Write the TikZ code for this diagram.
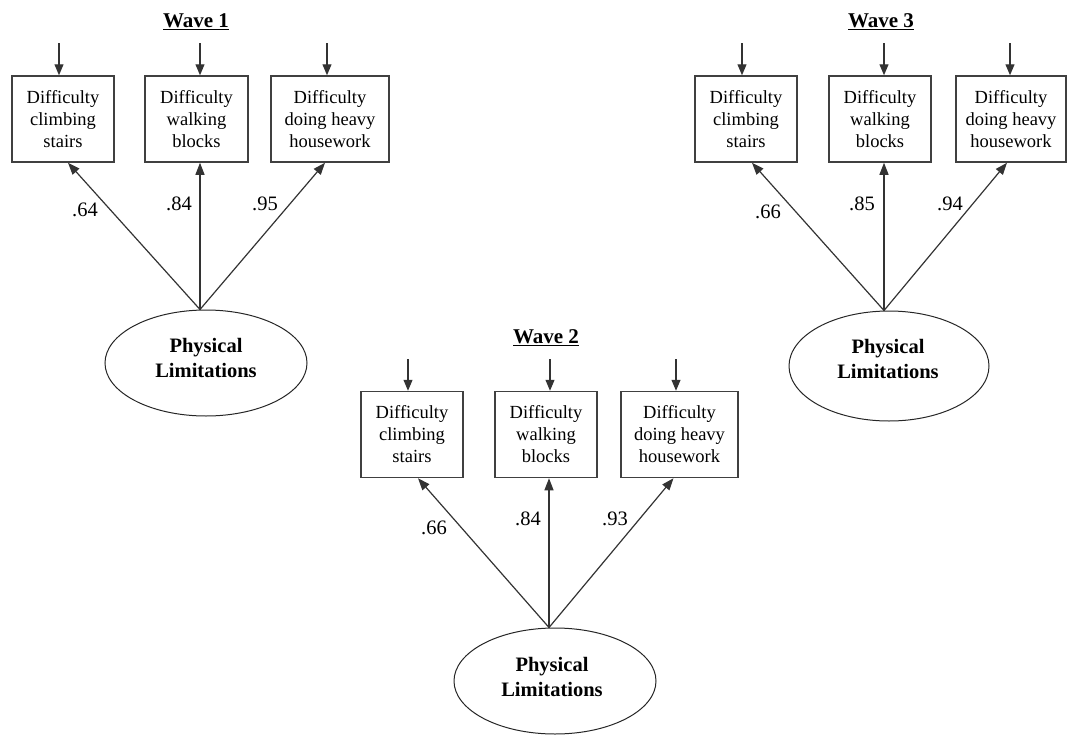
\documentclass[tikz,border=0pt]{standalone}
\usepackage{fontspec}
\setmainfont{Liberation Serif}
\usetikzlibrary{shapes.geometric,arrows.meta,calc}

\tikzset{
  obs/.style={draw=black!75, line width=1.5pt, fill=white, align=center,
    inner sep=0pt, minimum height=86pt, font=\fontsize{18.5}{22}\selectfont},
  lat/.style={ellipse, draw=black!85, line width=1pt, align=center, inner sep=0pt,
    minimum width=202pt, minimum height=106pt,
    font=\bfseries\fontsize{20.5}{25}\selectfont},
  wavetitle/.style={font=\bfseries\fontsize{21}{25}\selectfont, inner sep=0pt},
  loadlbl/.style={font=\fontsize{20.5}{24}\selectfont, inner sep=0pt},
  pathto/.style={-{Triangle[length=12pt,width=9pt]}, line width=1.2pt, draw=black!80},
  errarrow/.style={-{Triangle[length=11pt,width=9pt]}, line width=1.2pt, draw=black!80}
}

\begin{document}
\begin{tikzpicture}[x=1pt,y=-1pt]
\useasboundingbox (0,0) rectangle (1068,736);

% ---------- Wave 1 ----------
\node[wavetitle] (w1) at (196,22) {\underline{Wave 1}};
\node[obs, minimum width=102pt] (b11) at (63,119) {Difficulty\\climbing\\stairs};
\node[obs, minimum width=103pt] (b12) at (196.5,119) {Difficulty\\walking\\blocks};
\node[obs, minimum width=118pt] (b13) at (330,119) {Difficulty\\doing heavy\\housework};
\node[lat] (L1) at (206,363) {};
\node[lat, draw=none, fill=none] (L1t) at (206,358) {Physical\\Limitations};
\coordinate (a1) at ($(L1.north)+(-6,0)$);
\coordinate (e11) at (59,43);
\coordinate (e12) at (200,43);
\coordinate (e13) at (327,43);
\draw[errarrow] (e11) -- (e11 |- b11.north);
\draw[errarrow] (e12) -- (e12 |- b12.north);
\draw[errarrow] (e13) -- (e13 |- b13.north);
\coordinate (t11) at ($(b11.south)+(5,0)$);
\coordinate (t12) at (a1 |- b12.south);
\coordinate (t13) at ($(b13.south)+(-5,0)$);
\draw[pathto] (a1) -- (t11);
\draw[pathto] (a1) -- (t12);
\draw[pathto] (a1) -- (t13);
\node[loadlbl] (l11) at (85,210) {.64};
\node[loadlbl] (l12) at (179,204) {.84};
\node[loadlbl] (l13) at (265,204) {.95};

% ---------- Wave 2 ----------
\node[wavetitle] (w2) at (546,338) {\underline{Wave 2}};
\node[obs, minimum width=102pt] (b21) at (412,434.5) {Difficulty\\climbing\\stairs};
\node[obs, minimum width=102pt] (b22) at (546,434.5) {Difficulty\\walking\\blocks};
\node[obs, minimum width=117pt] (b23) at (679.5,434.5) {Difficulty\\doing heavy\\housework};
\node[lat] (L2) at (555,681) {};
\node[lat, draw=none, fill=none] (L2t) at (552,677) {Physical\\Limitations};
\coordinate (a2) at ($(L2.north)+(-6,0)$);
\coordinate (e21) at (408,359);
\coordinate (e22) at (550,359);
\coordinate (e23) at (676,359);
\draw[errarrow] (e21) -- (e21 |- b21.north);
\draw[errarrow] (e22) -- (e22 |- b22.north);
\draw[errarrow] (e23) -- (e23 |- b23.north);
\coordinate (t21) at ($(b21.south)+(6,0)$);
\coordinate (t22) at (a2 |- b22.south);
\coordinate (t23) at ($(b23.south)+(-6,0)$);
\draw[pathto] (a2) -- (t21);
\draw[pathto] (a2) -- (t22);
\draw[pathto] (a2) -- (t23);
\node[loadlbl] (l21) at (434,528) {.66};
\node[loadlbl] (l22) at (528,519) {.84};
\node[loadlbl] (l23) at (615,519) {.93};

% ---------- Wave 3 ----------
\node[wavetitle] (w3) at (881,22) {\underline{Wave 3}};
\node[obs, minimum width=102pt] (b31) at (746,119) {Difficulty\\climbing\\stairs};
\node[obs, minimum width=102pt] (b32) at (880,119) {Difficulty\\walking\\blocks};
\node[obs, minimum width=110pt] (b33) at (1011,119) {Difficulty\\doing heavy\\housework};
\node[lat, minimum width=200pt, minimum height=110pt] (L3) at (889,366) {};
\node[lat, draw=none, fill=none] (L3t) at (888,359) {Physical\\Limitations};
\coordinate (a3) at ($(L3.north)+(-5,0)$);
\coordinate (e31) at (742,43);
\coordinate (e32) at (884,43);
\coordinate (e33) at (1010,43);
\draw[errarrow] (e31) -- (e31 |- b31.north);
\draw[errarrow] (e32) -- (e32 |- b32.north);
\draw[errarrow] (e33) -- (e33 |- b33.north);
\coordinate (t31) at ($(b31.south)+(6,0)$);
\coordinate (t32) at (a3 |- b32.south);
\coordinate (t33) at ($(b33.south)+(-4,0)$);
\draw[pathto] (a3) -- (t31);
\draw[pathto] (a3) -- (t32);
\draw[pathto] (a3) -- (t33);
\node[loadlbl] (l31) at (768,212) {.66};
\node[loadlbl] (l32) at (862,204) {.85};
\node[loadlbl] (l33) at (950,204) {.94};
\end{tikzpicture}
\end{document}
